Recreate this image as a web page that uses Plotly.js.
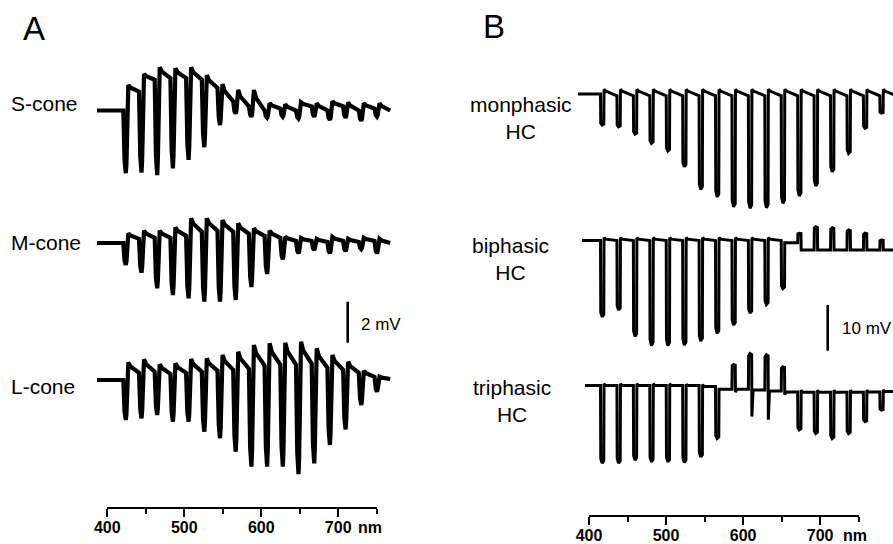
<!DOCTYPE html>
<html>
<head>
<meta charset="utf-8">
<script src="https://cdn.plot.ly/plotly-3.0.1.min.js"></script>
<style>html,body{margin:0;padding:0;background:#fff;}#chart{width:893px;height:544px;}</style>
</head>
<body>
<div id="chart"></div>
<script>
// ---------------- DATA (mV, relative to each trace's resting level) ----------------
// Panel A: cone photoreceptor responses, one value per flash (17 flashes)
const sConeOn   = [-3.06, -3.03, -3.15, -2.82, -2.41, -1.79, -0.71, -0.15, -0.30, -0.35, -0.30, -0.40, -0.30, -0.45, -0.35, -0.50, -0.30];
const sConeOff  = [ 1.24,  1.78,  2.11,  2.06,  2.11,  1.73,  1.29,  1.00,  1.00,  0.35,  0.30,  0.40,  0.35,  0.45,  0.40,  0.35,  0.35];
const sConeRest = [ 0.92,  1.50,  1.58,  1.58,  1.50,  1.10,  0.44,  0.20,  0.00,  0.10,  0.00,  0.20,  0.00,  0.20,  0.00,  0.10,  0.00];

const mConeOn   = [-1.07, -1.45, -2.21, -2.54, -2.70, -2.86, -2.86, -2.78, -2.15, -1.51, -0.80, -0.50, -0.34, -0.50, -0.40, -0.30, -0.50];
const mConeOff  = [ 0.47,  0.60,  0.60,  0.76,  1.20,  1.20,  1.12,  0.96,  0.72,  0.60,  0.31,  0.24,  0.20,  0.30,  0.20,  0.25,  0.20];
const mConeRest = [ 0.20,  0.25,  0.25,  0.35,  0.55,  0.60,  0.55,  0.45,  0.35,  0.25,  0.10,  0.10,  0.05,  0.10,  0.05,  0.10,  0.00];

const lConeOn   = [-1.95, -1.87, -1.71, -2.03, -2.03, -2.52, -2.84, -3.50, -4.23, -4.23, -4.23, -4.59, -4.07, -3.17, -2.41, -1.22, -0.57];
const lConeOff  = [ 0.86,  1.01,  0.77,  0.81,  1.02,  1.06,  1.22,  1.38,  1.71,  1.79,  1.82,  1.87,  1.54,  1.22,  0.89,  0.45,  0.16];
const lConeRest = [ 0.35,  0.40,  0.30,  0.35,  0.40,  0.45,  0.50,  0.55,  0.70,  0.75,  0.75,  0.80,  0.60,  0.50,  0.35,  0.15,  0.05];

// Panel B: horizontal cell responses (18 flashes)
const monoOn   = [-6.8, -7.2, -8.75, -10.8, -12.5, -15.9, -20.9, -22.5, -24.7, -25.0, -24.9, -23.9, -22.3, -20.1, -17.0, -13.0, -7.5, -4.2];
const monoOff  = [ 1.0,  1.0,  1.0,   1.0,   1.0,   1.0,   1.0,   1.0,   1.0,   1.0,   1.0,   1.0,   1.0,   1.0,   1.0,   1.0,  1.0,  1.0];
const monoRest = [-0.4, -0.4, -0.4,  -0.4,  -0.4,  -0.4,  -0.4,  -0.4,  -0.4,  -0.4,  -0.4,  -0.4,  -0.4,  -0.4,  -0.4,  -0.4, -0.4, -0.4];

const biOn   = [-16.7, -15.2, -21.0, -23.0, -23.0, -22.9, -22.0, -20.3, -18.5, -15.9, -14.0, -10.5, 1.6, 3.0, 2.8, 2.3, 1.6, 0.1];
const biOff  = [  0.6,   0.6,   0.6,   0.6,   0.6,   0.6,   0.6,   0.6,   0.6,   0.6,   0.6,  -0.5, -2.1, -2.1, -2.1, -2.1, -2.1, -2.1];
const biRest = [  0.0,   0.0,   0.0,   0.0,   0.0,   0.0,   0.0,   0.0,   0.0,   0.0,   0.0,  -0.5, -2.1, -2.1, -2.1, -2.1, -2.1, -2.1];

const triOn   = [-17.0, -17.0, -16.3, -16.7, -16.7, -16.8, -15.6, -11.6, 4.6, 7.0, 6.7, 4.1, -9.7, -10.5, -11.6, -10.5, -7.9, -5.4];
const triOff  = [  0.4,   0.4,   0.4,   0.4,   0.4,   0.3,   0.2,  -0.8, -1.5, -6.8, -7.5, -2.0, -1.0, -1.0, -1.0, -1.0, -1.0, -1.0];
const triRest = [  0.0,   0.0,   0.0,   0.0,   0.0,   0.0,  -0.2,  -0.8, -0.8, -1.0, -1.2, -1.4, -1.5, -1.5, -1.5, -1.5, -1.4, -1.3];

// Axis / scale-bar values
const nmTicks = [400, 500, 600, 700];
const nmTickText = ['400', '500', '600', '700'];
const nmMinor = [450, 550, 650, 750];
const scaleA_mV = 2;
const scaleB_mV = 10;

// ---------------- LAYOUT CONSTANTS (pixels of the 893x544 figure) ----------------
const W = 893, H = 544;
const FONT = 'Liberation Sans, Arial, Helvetica, sans-serif';
const pxA = 20.5, pxB = 4.57;           // pixels per mV
const periodA = 15.7, onsetA = 123.3;   // pixel period of flashes, first onset
const periodB = 16.43, onsetB = 600.5;
const offA = {s: -110.5 / pxA, m: -243 / pxA, l: -380 / pxA};
const offB = {mono: -94 / pxB, bi: -240.5 / pxB, tri: -385.5 / pxB};

// waveform shape (style) per cell class; times in flash periods
const shapeCone = {tDrop: 0.08, sag: 0.8, tOn: 0.16, tUp: 0.2, lift: 0.85, tOff: 0.32, kt: 0.14, kf: 0.6};
const shapeMono = {tDrop: 0.015, sag: 0.94, tOn: 0.1, tUp: 0.2, lift: 0.97, tOff: 0.215, kt: 0.1, kf: 0.75};
const shapeBi   = {tDrop: 0.015, sag: 0.94, tOn: 0.1, tUp: 0.2, lift: 0.97, tOff: 0.215, kt: 0.1, kf: 0.5};
const shapeTri  = {tDrop: 0.015, sag: 0.94, tOn: 0.1, tUp: 0.2, lift: 0.97, tOff: 0.215, kt: 0.07, kf: 0.0};

function wave(on, off, rest, s, tStart, offset) {
  const x = [tStart, 0], y = [0, 0];
  for (let i = 0; i < on.length; i++) {
    const t = i, pre = i ? rest[i - 1] : 0;
    x.push(t + s.tDrop); y.push(pre + (on[i] - pre) * s.sag);
    x.push(t + s.tOn);   y.push(on[i]);
    x.push(t + s.tUp);   y.push(pre + (on[i] - pre) * s.lift);
    x.push(t + s.tOff);  y.push(off[i]);
    x.push(t + s.tOff + s.kt); y.push(rest[i] + s.kf * (off[i] - rest[i]));
    x.push(t + 1); y.push(rest[i]);
  }
  return {x: x, y: y.map(v => v + offset)};
}

function tr(w, xa, ya, width) {
  return {type: 'scatter', mode: 'lines', x: w.x, y: w.y, xaxis: xa, yaxis: ya,
          line: {color: '#000', width: width}, hoverinfo: 'skip'};
}

const startA = (97 - onsetA) / periodA;
const traces = [
  tr(wave(sConeOn, sConeOff, sConeRest, shapeCone, startA, offA.s), 'x', 'y', 4.2),
  tr(wave(mConeOn, mConeOff, mConeRest, shapeCone, startA, offA.m), 'x', 'y', 4.2),
  tr(wave(lConeOn, lConeOff, lConeRest, shapeCone, startA, offA.l), 'x', 'y', 4.2),
  tr(wave(monoOn, monoOff, monoRest, shapeMono, (578 - onsetB) / periodB, offB.mono), 'x2', 'y2', 3),
  tr(wave(biOn, biOff, biRest, shapeBi, (582 - onsetB) / periodB, offB.bi), 'x2', 'y2', 3),
  tr(wave(triOn, triOff, triRest, shapeTri, (585 - onsetB) / periodB, offB.tri), 'x2', 'y2', 3)
];

// scale bars, placed on the wavelength axes
const nmPerPxA = 350 / (376.7 - 107.3), nmPerPxB = 350 / (858.7 - 589);
const barAx = 400 + (347.7 - 107.3) * nmPerPxA, barAbottom = -342.7 / pxA;
const barBx = 400 + (827.7 - 589) * nmPerPxB, barBbottom = -350.7 / pxB;
traces.push({type: 'scatter', mode: 'lines', x: [barAx, barAx], y: [barAbottom, barAbottom + scaleA_mV],
  xaxis: 'x3', yaxis: 'y', line: {color: '#000', width: 2.6}, hoverinfo: 'skip'});
traces.push({type: 'scatter', mode: 'lines', x: [barBx, barBx], y: [barBbottom, barBbottom + scaleB_mV],
  xaxis: 'x4', yaxis: 'y2', line: {color: '#000', width: 2.6}, hoverinfo: 'skip'});

function nmAxis(d0, d1, linePy) {
  return {
    domain: [d0 / W, d1 / W], range: [400, 750], anchor: 'free', position: 1 - linePy / H,
    showline: true, linecolor: '#000', linewidth: 2, showgrid: false, zeroline: false,
    tickmode: 'array', tickvals: nmTicks, ticktext: nmTickText,
    ticks: 'outside', ticklen: 8, tickwidth: 2, tickcolor: '#000',
    minor: {tickmode: 'array', tickvals: nmMinor, ticks: 'outside', ticklen: 5, tickwidth: 2, tickcolor: '#000', showgrid: false},
    tickfont: {family: FONT, size: 16, color: '#000', weight: 'bold'},
    ticklabelstandoff: -3,
    fixedrange: true
  };
}

function ann(text, xp, yp, size, xanchor, extra) {
  return Object.assign({text: text, x: xp / W, y: 1 - yp / H, xref: 'paper', yref: 'paper',
    showarrow: false, xanchor: xanchor || 'center', yanchor: 'middle', align: 'center',
    font: {family: FONT, size: size, color: '#000'}}, extra || {});
}

const layout = {
  width: W, height: H,
  margin: {l: 0, r: 0, t: 0, b: 0, pad: 0},
  paper_bgcolor: '#fff', plot_bgcolor: 'rgba(0,0,0,0)',
  showlegend: false,
  xaxis:  {domain: [0, 1], range: [(0 - onsetA) / periodA, (W - onsetA) / periodA], visible: false, fixedrange: true},
  yaxis:  {domain: [0, 1], range: [-H / pxA, 0], visible: false, fixedrange: true},
  xaxis2: {domain: [0, 1], range: [(0 - onsetB) / periodB, (W - onsetB) / periodB], visible: false, anchor: 'y2', fixedrange: true},
  yaxis2: {domain: [0, 1], range: [-H / pxB, 0], visible: false, anchor: 'x2', fixedrange: true},
  xaxis3: nmAxis(107.3, 376.7, 507.7),
  xaxis4: nmAxis(589, 858.7, 515.7),
  annotations: [
    ann('A', 34, 28, 33),
    ann('B', 494, 26, 33),
    ann('S-cone', 9, 103, 21, 'left'),
    ann('M-cone', 9, 242, 21, 'left'),
    ann('L-cone', 9, 386, 21, 'left'),
    ann('monphasic<br>HC', 521, 118, 21),
    ann('biphasic<br>HC', 511, 259, 21),
    ann('triphasic<br>HC', 512, 401, 21),
    ann('2 mV', 359, 324, 17, 'left'),
    ann('10 mV', 840, 328, 17, 'left'),
    {text: 'nm', x: 400 + (355.5 - 107.3) * nmPerPxA, xref: 'x3', y: 1 - 527.5 / H, yref: 'paper',
     showarrow: false, xanchor: 'left', yanchor: 'middle', font: {family: FONT, size: 16, color: '#000', weight: 'bold'}},
    {text: 'nm', x: 400 + (840.5 - 589) * nmPerPxB, xref: 'x4', y: 1 - 535 / H, yref: 'paper',
     showarrow: false, xanchor: 'left', yanchor: 'middle', font: {family: FONT, size: 16, color: '#000', weight: 'bold'}}
  ]
};

Plotly.newPlot('chart', traces, layout, {staticPlot: true, displayModeBar: false});
</script>
</body>
</html>
